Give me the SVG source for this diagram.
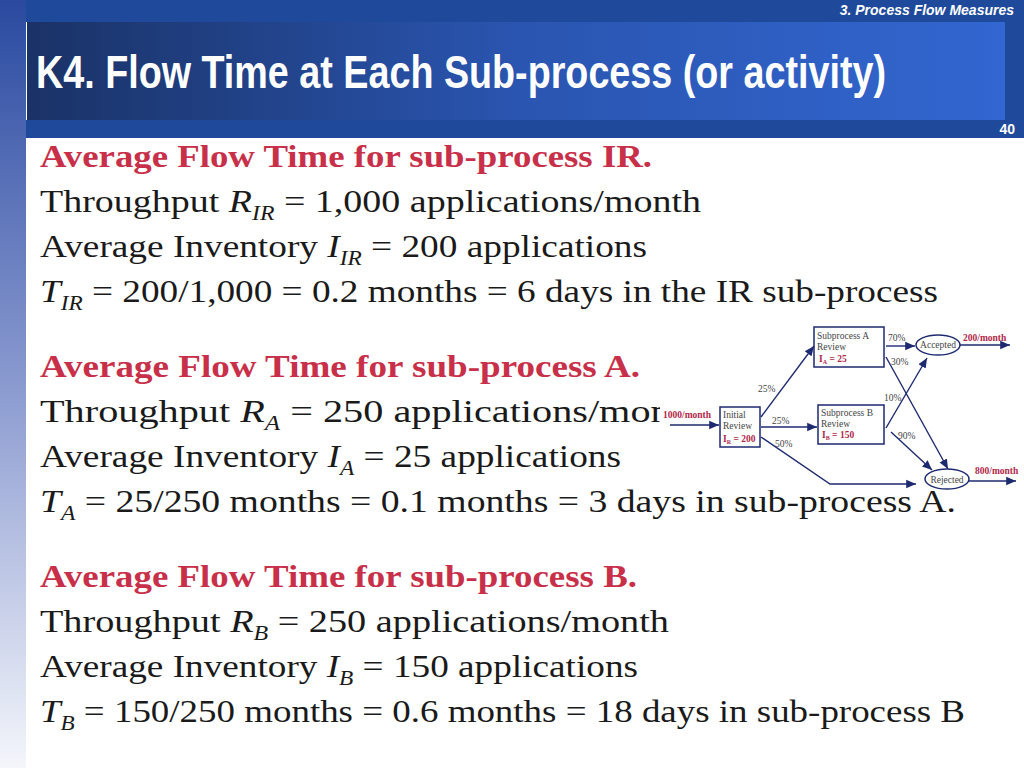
<svg xmlns="http://www.w3.org/2000/svg" width="1024" height="768" viewBox="0 0 1024 768">
<defs>
<linearGradient id="tg" x1="0" x2="1" y1="0" y2="0"><stop offset="0" stop-color="#1a3266"/><stop offset="0.5" stop-color="#2a55b0"/><stop offset="1" stop-color="#3266d0"/></linearGradient>
<linearGradient id="lg" x1="0" x2="0" y1="0" y2="1"><stop offset="0" stop-color="#2a4aa0"/><stop offset="0.5" stop-color="#8a9ad0"/><stop offset="1" stop-color="#f4f6fb"/></linearGradient>
<marker id="ar" markerWidth="8" markerHeight="8" refX="7" refY="4" orient="auto"><path d="M0,1 L7,4 L0,7 z" fill="#1e2a70"/></marker>
<style>
.b{font-family:"Liberation Serif",serif;font-size:32px;fill:#1a1a1a}
.h{font-family:"Liberation Serif",serif;font-size:32px;font-weight:bold;fill:#c8304a}
.s{font-family:"Liberation Serif",serif;font-size:9.5px;fill:#444}
.r{font-family:"Liberation Serif",serif;font-size:9.5px;font-weight:bold;fill:#b02848}
.bx{fill:#fff;stroke:#1e2a70;stroke-width:1.5}
.c{stroke:#1e2a70;stroke-width:1.4;fill:none;marker-end:url(#ar)}
</style>
</defs>
<rect width="1024" height="768" fill="#fff"/>
<rect width="1024" height="22" fill="#1f4a9c"/>
<rect x="0" y="0" width="26" height="768" fill="url(#lg)"/>
<rect x="26" y="120" width="998" height="18" fill="#1f4a9c"/>
<rect x="27" y="22" width="978" height="98" fill="url(#tg)"/>
<rect x="1005" y="22" width="19" height="98" fill="#1f4a9c"/>
<text x="1014" y="15" text-anchor="end" font-family="Liberation Sans,sans-serif" font-size="14" font-style="italic" font-weight="bold" fill="#fff">3. Process Flow Measures</text>
<text x="36" y="88" font-family="Liberation Sans,sans-serif" font-size="46" font-weight="bold" fill="#fff" textLength="850" lengthAdjust="spacingAndGlyphs">K4. Flow Time at Each Sub-process (or activity)</text>
<text x="1015" y="134" text-anchor="end" font-family="Liberation Sans,sans-serif" font-size="14" font-weight="bold" fill="#fff">40</text>
<g id="text">
<text x="40" y="167" class="h" textLength="612" lengthAdjust="spacingAndGlyphs">Average Flow Time  for sub-process IR.</text>
<text x="40" y="212" class="b" textLength="661" lengthAdjust="spacingAndGlyphs">Throughput <tspan font-style="italic">R</tspan><tspan font-style="italic" font-size="20" dy="8">IR</tspan><tspan dy="-8"> = 1,000 applications/month</tspan></text>
<text x="40" y="257" class="b" textLength="607" lengthAdjust="spacingAndGlyphs">Average Inventory <tspan font-style="italic">I</tspan><tspan font-style="italic" font-size="20" dy="8">IR</tspan><tspan dy="-8"> = 200 applications</tspan></text>
<text x="40" y="302" class="b" textLength="898" lengthAdjust="spacingAndGlyphs"><tspan font-style="italic">T</tspan><tspan font-style="italic" font-size="20" dy="8">IR</tspan><tspan dy="-8"> = 200/1,000 = 0.2 months =  6 days in the IR sub-process</tspan></text>
<text x="40" y="377" class="h" textLength="600" lengthAdjust="spacingAndGlyphs">Average Flow Time  for sub-process A.</text>
<text x="40" y="422" class="b" textLength="662" lengthAdjust="spacingAndGlyphs">Throughput <tspan font-style="italic">R</tspan><tspan font-style="italic" font-size="20" dy="8">A</tspan><tspan dy="-8"> = 250 applications/month</tspan></text>
<text x="40" y="467" class="b" textLength="581" lengthAdjust="spacingAndGlyphs">Average Inventory <tspan font-style="italic">I</tspan><tspan font-style="italic" font-size="20" dy="8">A</tspan><tspan dy="-8"> = 25 applications</tspan></text>
<text x="40" y="512" class="b" textLength="916" lengthAdjust="spacingAndGlyphs"><tspan font-style="italic">T</tspan><tspan font-style="italic" font-size="20" dy="8">A</tspan><tspan dy="-8"> = 25/250 months = 0.1 months = 3 days in sub-process  A.</tspan></text>
<text x="40" y="587" class="h" textLength="597" lengthAdjust="spacingAndGlyphs">Average Flow Time  for sub-process B.</text>
<text x="40" y="632" class="b" textLength="629" lengthAdjust="spacingAndGlyphs">Throughput <tspan font-style="italic">R</tspan><tspan font-style="italic" font-size="20" dy="8">B</tspan><tspan dy="-8"> = 250 applications/month</tspan></text>
<text x="40" y="677" class="b" textLength="598" lengthAdjust="spacingAndGlyphs">Average Inventory <tspan font-style="italic">I</tspan><tspan font-style="italic" font-size="20" dy="8">B</tspan><tspan dy="-8"> = 150 applications</tspan></text>
<text x="40" y="722" class="b" textLength="925" lengthAdjust="spacingAndGlyphs"><tspan font-style="italic">T</tspan><tspan font-style="italic" font-size="20" dy="8">B</tspan><tspan dy="-8"> = 150/250 months = 0.6 months = 18 days in sub-process B</tspan></text>
</g>
<rect x="660" y="322" width="364" height="168" fill="#fff"/>
<g id="connectors">
<path class="c" d="M670,425 L719,425"/>
<path class="c" d="M761,417 L814,346"/>
<path class="c" d="M761,427 L817,427"/>
<path class="c" d="M761,437 L830,484 L916,484"/>
<path class="c" d="M886,346 L915,346"/>
<path class="c" d="M886,357 L948,469"/>
<path class="c" d="M886,428 L927,358"/>
<path class="c" d="M891,432 L932,470"/>
<path class="c" d="M960,345 L1010,345"/>
<path class="c" d="M969,481 L1016,481"/>
</g>
<g id="n-initial"><rect class="bx" x="720" y="407" width="40" height="40"/><text x="723" y="418" class="s">Initial</text><text x="723" y="429" class="s">Review</text><text x="723" y="442" class="r">I<tspan font-size="6" dy="2">R</tspan><tspan dy="-2"> = 200</tspan></text></g>
<g id="n-a"><rect class="bx" x="814" y="327" width="70" height="40"/><text x="817" y="339" class="s">Subprocess A</text><text x="817" y="350" class="s">Review</text><text x="819" y="362" class="r">I<tspan font-size="6" dy="2">A</tspan><tspan dy="-2"> = 25</tspan></text></g>
<g id="n-b"><rect class="bx" x="818" y="405" width="66" height="39"/><text x="821" y="416" class="s">Subprocess B</text><text x="821" y="427" class="s">Review</text><text x="822" y="438" class="r">I<tspan font-size="6" dy="2">B</tspan><tspan dy="-2"> = 150</tspan></text></g>
<g id="n-acc"><ellipse class="bx" cx="938" cy="345" rx="22" ry="10"/><text x="938" y="348" text-anchor="middle" class="s">Accepted</text></g>
<g id="n-rej"><ellipse class="bx" cx="947" cy="479" rx="22" ry="10"/><text x="947" y="483" text-anchor="middle" class="s">Rejected</text></g>
<g id="labels">
<text x="663" y="418" class="r">1000/month</text>
<text x="758" y="392" class="s">25%</text>
<text x="772" y="424" class="s">25%</text>
<text x="775" y="447" class="s">50%</text>
<text x="888" y="341" class="s">70%</text>
<text x="891" y="365" class="s">30%</text>
<text x="884" y="401" class="s">10%</text>
<text x="898" y="439" class="s">90%</text>
<text x="963" y="341" class="r">200/month</text>
<text x="975" y="474" class="r">800/month</text>
</g>
</svg>
